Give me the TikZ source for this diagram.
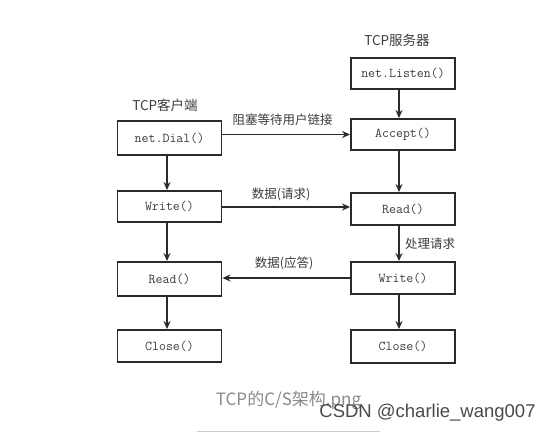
\documentclass[tikz,border=0pt]{standalone}
\usepackage{fontspec}
\newfontfamily\cjk{Noto Sans CJK SC}
\newfontfamily\wmfont{Liberation Sans}
\usetikzlibrary{arrows.meta}
\definecolor{boxline}{HTML}{2A2A2A}
\definecolor{boxtext}{HTML}{3C3C3C}
\definecolor{captext}{HTML}{8A8A8A}
\definecolor{wmtext}{HTML}{4A4A4A}
\tikzset{
  fnbox/.style={draw=boxline, line width=1.9pt, fill=white, minimum width=104pt, minimum height=32pt, inner sep=0pt,
    text=boxtext, font=\ttfamily\fontsize{13.5}{15}\selectfont},
  flow/.style={draw=boxline, line width=1.9pt, -{Stealth[length=8pt,width=7pt]}},
  lbl/.style={text=boxtext, font=\cjk\fontsize{12.5}{14}\selectfont, inner sep=0pt},
  head/.style={text=boxtext, font=\cjk\fontsize{13.5}{15}\selectfont, inner sep=0pt}
}
\begin{document}
\begin{tikzpicture}[x=1pt,y=-1pt]
\useasboundingbox (0,0) rectangle (553,433);
\fill[white] (0,0) rectangle (553,433);
% client column
\node[head] (chead) at (165,105) {TCP客户端};
\node[fnbox, minimum height=34pt] (dial) at (169.5,138) {net.Dial()};
\node[fnbox, minimum height=31pt] (cwrite) at (169.5,206.5) {Write()};
\node[fnbox, minimum height=34pt] (cread) at (169.5,279) {Read()};
\node[fnbox] (cclose) at (169.5,346) {Close()};
% server column
\node[head] (shead) at (397,40) {TCP服务器};
\node[fnbox, minimum height=31pt] (listen) at (403,73.5) {net.Listen()};
\node[fnbox, minimum height=31pt] (accept) at (403,134.5) {Accept()};
\node[fnbox] (sread) at (403,209) {Read()};
\node[fnbox] (swrite) at (403,278) {Write()};
\node[fnbox, minimum height=33pt] (sclose) at (403,346.5) {Close()};
% vertical arrows
\draw[flow] ([xshift=-2.5pt]dial.south) -- ([xshift=-2.5pt]cwrite.north);
\draw[flow] ([xshift=-2.5pt]cwrite.south) -- ([xshift=-2.5pt]cread.north);
\draw[flow] ([xshift=-2.5pt]cread.south) -- ([xshift=-2.5pt]cclose.north);
\draw[flow] ([xshift=-4pt]listen.south) -- ([xshift=-4pt]accept.north);
\draw[flow] ([xshift=-4pt]accept.south) -- ([xshift=-4pt]sread.north);
\draw[flow] ([xshift=-4pt]sread.south) -- ([xshift=-4pt]swrite.north);
\draw[flow] ([xshift=-4pt]swrite.south) -- ([xshift=-4pt]sclose.north);
% horizontal arrows
\draw[flow] (dial.east |- accept.west) -- (accept.west);
\draw[flow] ([yshift=-0.5pt]cwrite.east) -- ([yshift=-0.5pt]cwrite.east -| sread.west);
\draw[flow] (swrite.west) -- (swrite.west -| cread.east);
% labels
\node[lbl] (l1) at (282.5,120) {阻塞等待用户链接};
\node[lbl] (l2) at (281,194) {数据(请求)};
\node[lbl] (l3) at (284,263) {数据(应答)};
\node[lbl, anchor=west] (l4) at (405,244) {处理请求};
% caption and watermark
\node[text=captext, font=\cjk\fontsize{17}{19}\selectfont, inner sep=0pt] (cap) at (288.5,400) {TCP的C/S架构.png};
\node[text=wmtext, font=\wmfont\fontsize{18.5}{20}\selectfont, inner sep=0pt] (wm) at (427.5,413) {CSDN @charlie\_wang007};
\coordinate (ll) at (197,431);
\coordinate (lr) at (380,431);
\draw[draw=black!20, line width=0.6pt] (ll) -- (lr);
\end{tikzpicture}
\end{document}
